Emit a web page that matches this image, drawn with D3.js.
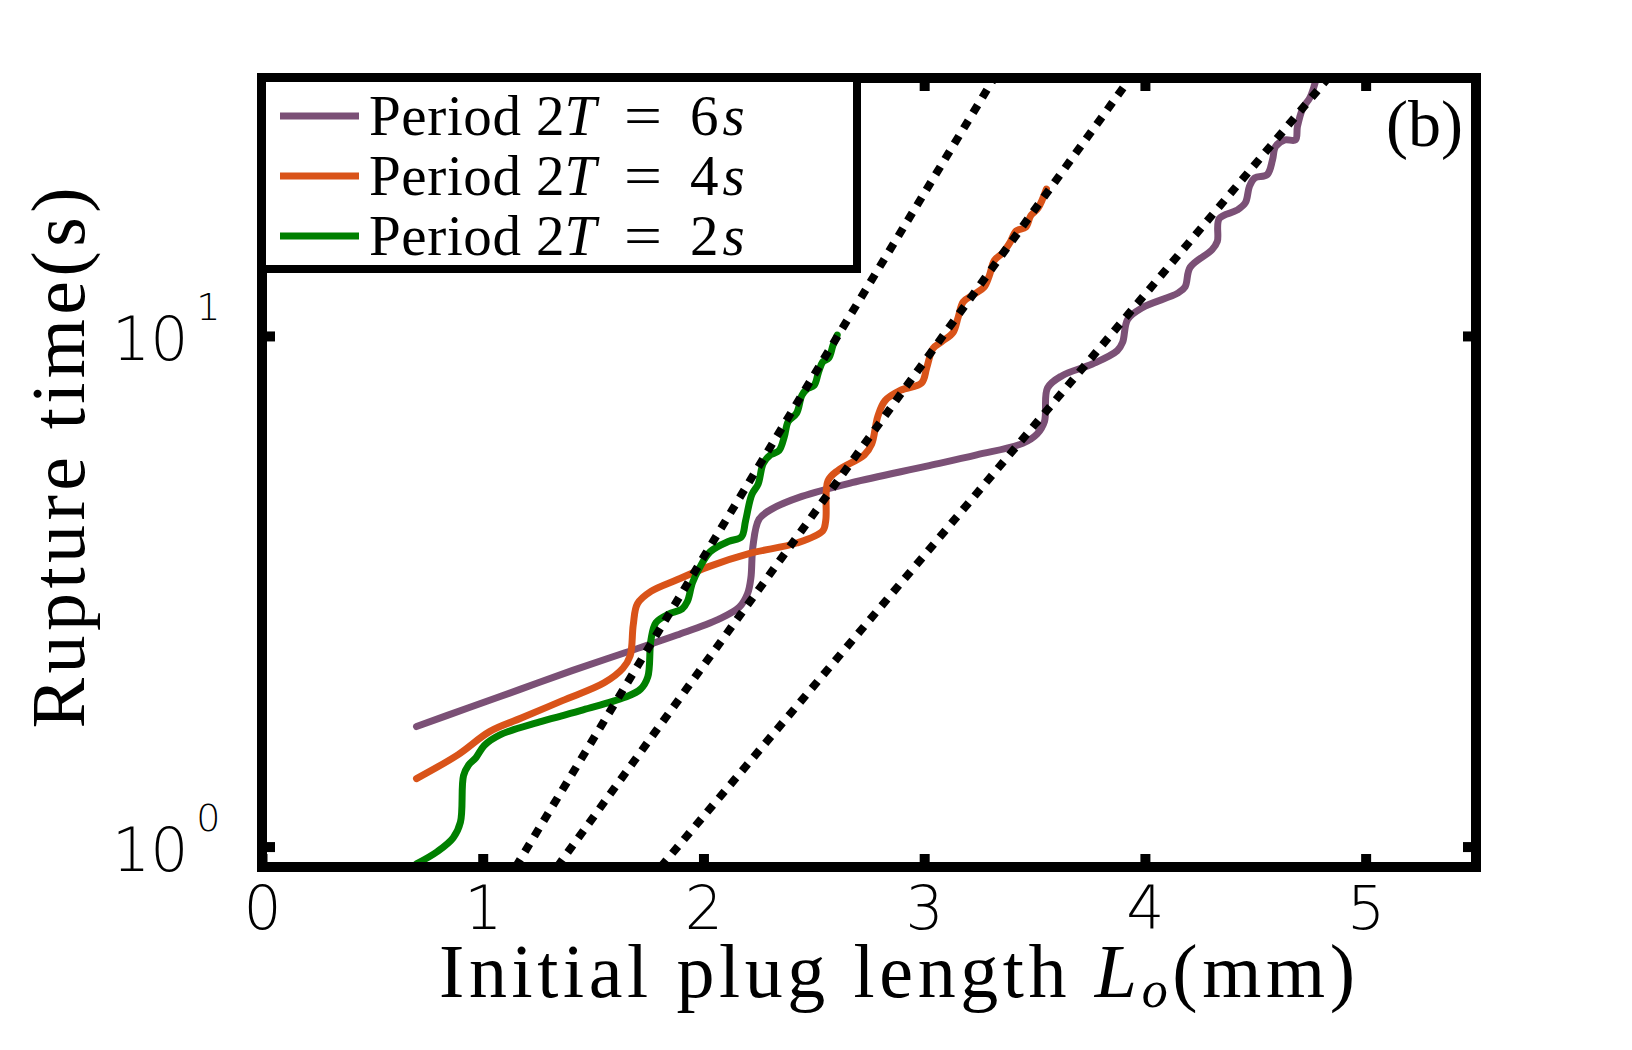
<!DOCTYPE html>
<html>
<head>
<meta charset="utf-8">
<script src="https://cdn.jsdelivr.net/npm/d3@7/dist/d3.min.js"></script>
<style>
  html, body { margin: 0; padding: 0; background: #fff; }
  svg { display: block; }
</style>
</head>
<body>
<svg id="chart" width="1632" height="1050"></svg>
<script>
// ---------------- data ----------------
const xTicks = [0, 1, 2, 3, 4, 5];
const yTicks = [1, 10];
const yTickExp = ["0", "1"];
const xDomain = [0, 5.5];
const yDomain = [0.912, 32];

const seriesLabels = ["6s", "4s", "2s"];
const seriesColors = ["#7b5076", "#d95319", "#008000"];

// Period 2T = 6s
const x6 = [0.700, 0.936, 1.172, 1.408, 1.644, 1.880, 2.068, 2.163, 2.200, 2.215, 2.224, 2.252, 2.309, 2.446, 2.672, 3.012, 3.238, 3.446, 3.512, 3.545, 3.559, 3.625, 3.762, 3.875, 3.899, 3.922, 3.988, 4.149, 4.182, 4.205, 4.304, 4.328, 4.337, 4.417, 4.455, 4.474, 4.498, 4.554, 4.578, 4.592, 4.634, 4.682, 4.691, 4.715, 4.748, 4.771];
const y6 = [1.718, 1.870, 2.034, 2.213, 2.397, 2.596, 2.786, 2.945, 3.13, 3.36, 3.87, 4.38, 4.58, 4.85, 5.16, 5.56, 5.85, 6.16, 6.43, 6.80, 7.91, 8.36, 8.81, 9.36, 9.72, 10.78, 11.36, 12.13, 12.48, 13.63, 14.75, 15.32, 16.98, 17.63, 18.23, 19.65, 20.39, 20.7, 22.1, 23.5, 24.2, 24.2, 25.7, 27.9, 29.3, 31.3];

// Period 2T = 4s
const x4 = [0.700, 0.889, 1.031, 1.172, 1.361, 1.550, 1.635, 1.668, 1.682, 1.701, 1.762, 1.880, 2.021, 2.210, 2.422, 2.540, 2.554, 2.564, 2.611, 2.729, 2.762, 2.790, 2.823, 2.894, 2.988, 3.012, 3.040, 3.083, 3.130, 3.154, 3.177, 3.224, 3.271, 3.295, 3.318, 3.356, 3.389, 3.417, 3.460, 3.483, 3.516, 3.554];
const y4 = [1.359, 1.514, 1.679, 1.783, 1.931, 2.093, 2.235, 2.364, 2.72, 2.99, 3.16, 3.33, 3.53, 3.75, 3.93, 4.15, 4.35, 5.20, 5.46, 5.85, 6.14, 6.96, 7.47, 7.83, 8.09, 8.68, 9.45, 9.77, 10.14, 10.88, 11.66, 12.05, 12.45, 13.12, 14.06, 14.55, 15.25, 16.06, 16.33, 17.2, 17.8, 19.4];

// Period 2T = 2s
const x2 = [0.700, 0.795, 0.866, 0.899, 0.913, 0.936, 0.969, 1.007, 1.078, 1.267, 1.455, 1.644, 1.715, 1.748, 1.762, 1.785, 1.842, 1.903, 1.927, 1.950, 1.983, 2.031, 2.116, 2.172, 2.191, 2.219, 2.248, 2.271, 2.304, 2.342, 2.366, 2.384, 2.422, 2.446, 2.469, 2.502, 2.521, 2.540, 2.568, 2.587, 2.606];
const y2 = [0.925, 0.978, 1.04, 1.116, 1.377, 1.445, 1.493, 1.578, 1.655, 1.759, 1.852, 1.960, 2.034, 2.151, 2.538, 2.747, 2.852, 2.919, 3.018, 3.284, 3.521, 3.781, 3.963, 4.04, 4.35, 4.89, 5.13, 5.63, 5.85, 5.96, 6.34, 6.80, 7.06, 7.65, 7.87, 8.01, 8.48, 8.89, 9.06, 9.59, 10.04];

// exponential fits (dotted), endpoints in data units
const fitX = [[1.149, 3.317], [1.337, 3.934], [1.806, 4.830]];
const fitY = [[0.912, 32], [0.912, 32], [0.912, 32]];

// ---------------- layout ----------------
const svg = d3.select("#chart");
const L = 262, R = 1476, T = 78, B = 867;
const x = d3.scaleLinear().domain(xDomain).range([L, R]);
const y = d3.scaleLog().domain(yDomain).range([B, T]);

svg.append("rect").attr("width", 1632).attr("height", 1050).attr("fill", "#fff");

svg.append("defs").append("clipPath").attr("id", "plotclip")
  .append("rect").attr("x", L).attr("y", T).attr("width", R - L).attr("height", B - T);

const plot = svg.append("g").attr("clip-path", "url(#plotclip)");

const line = d3.line().x(d => x(d[0])).y(d => y(d[1])).curve(d3.curveCatmullRom.alpha(0.5));

const series = [
  { xs: x6, ys: y6, color: seriesColors[0] },
  { xs: x4, ys: y4, color: seriesColors[1] },
  { xs: x2, ys: y2, color: seriesColors[2] }
];
series.forEach(s => {
  plot.append("path")
    .datum(s.xs.map((v, i) => [v, s.ys[i]]))
    .attr("d", line)
    .attr("fill", "none")
    .attr("stroke", s.color)
    .attr("stroke-width", 7)
    .attr("stroke-linejoin", "round")
    .attr("stroke-linecap", "round");
});

const straight = d3.line().x(d => x(d[0])).y(d => y(d[1]));
fitX.forEach((fx, i) => {
  plot.append("path")
    .datum(fx.map((v, j) => [v, fitY[i][j]]))
    .attr("d", straight)
    .attr("fill", "none")
    .attr("stroke", "#000")
    .attr("stroke-width", 8)
    .attr("stroke-dasharray", "9,9");
});

// ---------------- axes ----------------
const tickFont = "'DejaVu Sans', sans-serif";
function styleAxis(g) {
  g.select(".domain").remove();
  g.selectAll(".tick line").attr("stroke", "#000").attr("stroke-width", 10);
}
svg.append("g").attr("transform", `translate(0,${B})`)
  .call(d3.axisBottom(x).tickValues(xTicks).tickFormat(d3.format("d")).tickSize(-13).tickSizeOuter(0))
  .call(styleAxis)
  .call(g => g.selectAll("text")
    .attr("y", 62).attr("dy", 0)
    .attr("fill", "#000")
    .style("font-family", tickFont).style("font-weight", 200).style("font-size", "60px"));
svg.append("g").attr("transform", `translate(0,${T})`)
  .call(d3.axisTop(x).tickValues(xTicks).tickSize(-13).tickFormat(""))
  .call(styleAxis);
svg.append("g").attr("transform", `translate(${L},0)`)
  .call(d3.axisLeft(y).tickValues(yTicks).tickSize(-13).tickFormat(""))
  .call(styleAxis);
svg.append("g").attr("transform", `translate(${R},0)`)
  .call(d3.axisRight(y).tickValues(yTicks).tickSize(-13).tickFormat(""))
  .call(styleAxis);

// y tick labels 10^n
yTicks.forEach((v, i) => {
  const t = svg.append("text")
    .attr("x", 112).attr("y", y(v) + 24)
    .style("font-family", tickFont).style("font-weight", 200).style("font-size", "60px")
    .attr("fill", "#000");
  t.append("tspan").text("10");
  t.append("tspan").attr("dx", 8).attr("dy", -40).style("font-size", "38px").text(yTickExp[i]);
});

// frame
svg.append("rect").attr("x", L).attr("y", T).attr("width", R - L).attr("height", B - T)
  .attr("fill", "none").attr("stroke", "#000").attr("stroke-width", 10);

// ---------------- legend ----------------
const serif = "'Liberation Serif', 'Times New Roman', serif";
const lg = svg.append("g");
lg.append("rect").attr("x", L).attr("y", T).attr("width", 857 - L).attr("height", 269 - T)
  .attr("fill", "#fff").attr("stroke", "#000").attr("stroke-width", 8);
seriesLabels.forEach((lab, i) => {
  const yy = 116 + i * 60;
  lg.append("line").attr("x1", 280).attr("x2", 359).attr("y1", yy).attr("y2", yy)
    .attr("stroke", seriesColors[i]).attr("stroke-width", 7);
  const t = lg.append("text").attr("y", yy + 19)
    .style("font-family", serif).style("font-size", "57px").attr("fill", "#000");
  t.append("tspan").attr("x", 369).attr("textLength", 152).attr("lengthAdjust", "spacing").text("Period");
  t.append("tspan").attr("x", 536).text("2");
  t.append("tspan").style("font-style", "italic").text("T");
  t.append("tspan").attr("x", 624).attr("textLength", 38).attr("lengthAdjust", "spacingAndGlyphs").text("=");
  t.append("tspan").attr("x", 690).text(lab.slice(0, -1));
  t.append("tspan").attr("dx", 4).style("font-style", "italic").text(lab.slice(-1));
});

// panel tag
svg.append("text").attr("x", 1463).attr("y", 146).attr("text-anchor", "end")
  .style("font-family", serif).style("font-size", "66px").attr("fill", "#000").text("(b)");

// axis titles
const xl = svg.append("text").attr("x", 439).attr("y", 997)
  .attr("textLength", 916).attr("lengthAdjust", "spacing")
  .style("font-family", serif).style("font-size", "76px").attr("fill", "#000");
xl.append("tspan").text("Initial plug length ");
xl.append("tspan").style("font-style", "italic").text("L");
xl.append("tspan").style("font-style", "italic").style("font-size", "52px").attr("dy", 10).text("o");
xl.append("tspan").attr("dy", -10).text("(mm)");

svg.append("text")
  .attr("transform", "translate(84,458) rotate(-90)")
  .attr("text-anchor", "middle")
  .attr("textLength", 541).attr("lengthAdjust", "spacing")
  .style("font-family", serif).style("font-size", "76px").attr("fill", "#000")
  .text("Rupture time(s)");
</script>
</body>
</html>
